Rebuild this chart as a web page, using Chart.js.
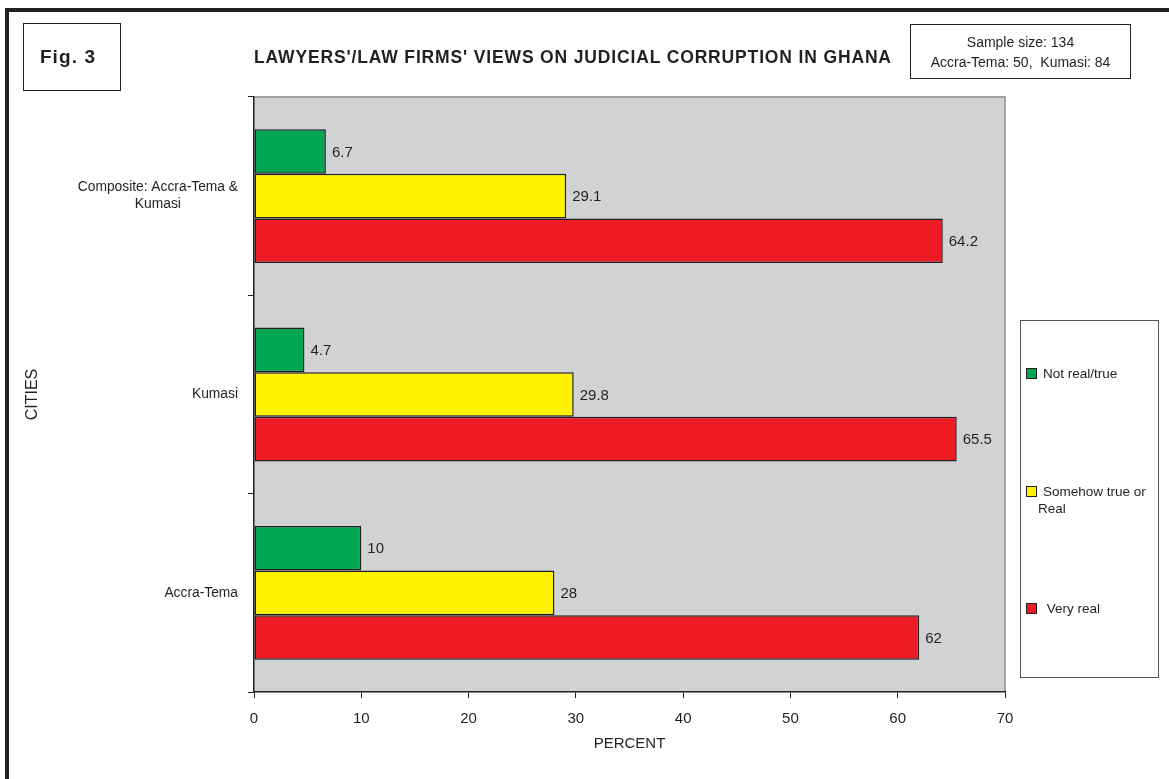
<!DOCTYPE html>
<html>
<head>
<meta charset="utf-8">
<script src="https://cdn.jsdelivr.net/npm/chart.js@4.4.0/dist/chart.umd.min.js"></script>
<style>
  html, body { margin: 0; padding: 0; background: #fff; }
  #wrap { position: relative; width: 1169px; height: 779px; overflow: hidden;
          font-family: 'Liberation Sans', Arial, Helvetica, sans-serif; color: #231f20; }
  #wrap * { box-sizing: border-box; }
  canvas { position: absolute; left: 0; top: 0; }
  .frame-top  { position: absolute; left: 5px; top: 8px; width: 1164px; height: 4px; background: #231f20; }
  .frame-left { position: absolute; left: 5px; top: 8px; width: 4px; height: 771px; background: #231f20; }
  .figbox { position: absolute; left: 23px; top: 23px; width: 98px; height: 68px;
            border: 1.5px solid #231f20; display: flex; align-items: center; justify-content: center;
            font-weight: bold; font-size: 19px; letter-spacing: 1.1px; padding-right: 8px; }
  .title { position: absolute; left: 254px; top: 46px; height: 22px; line-height: 22px;
           font-weight: bold; font-size: 17.5px; letter-spacing: 0.85px; white-space: nowrap; }
  .sample { position: absolute; left: 910px; top: 24px; width: 221px; height: 55px;
            border: 1.5px solid #231f20; display: flex; flex-direction: column;
            align-items: center; justify-content: center; font-size: 14px; line-height: 20px; }
  .legend { position: absolute; left: 1020px; top: 320px; width: 139px; height: 358px;
            border: 1px solid #555; }
  .legend .item { position: absolute; left: 0; width: 137px; }
  .legend .swatch { position: absolute; left: 5px; top: 3px; width: 11px; height: 11px;
                    border: 1.5px solid #231f20; }
  .legend .text { position: absolute; left: 17px; top: 0; width: 114px; text-indent: 5px;
                  font-size: 13.5px; line-height: 17px; white-space: pre-wrap; }
</style>
</head>
<body>
<div id="wrap">
  <canvas id="chart" width="1169" height="779"></canvas>
  <div class="frame-top"></div>
  <div class="frame-left"></div>
  <div class="figbox">Fig. 3</div>
  <div class="title">LAWYERS'/LAW FIRMS' VIEWS ON JUDICIAL CORRUPTION IN GHANA</div>
  <div class="sample"><div>Sample size: 134</div><div>Accra-Tema: 50,&nbsp; Kumasi: 84</div></div>
  <div class="legend" id="legend"></div>
</div>
<script>
// Cities, listed top to bottom
const cities = [['Composite: Accra-Tema &', 'Kumasi'], 'Kumasi', 'Accra-Tema'];

// Percent of respondents per answer
const notReal      = [6.7, 4.7, 10];
const somehowTrue  = [29.1, 29.8, 28];
const veryReal     = [64.2, 65.5, 62];

const seriesNames  = ['Not real/true', 'Somehow true or Real', ' Very real'];
const seriesColors = ['#00a651', '#fff200', '#ed1c24'];

// Percent axis
const percentMin = 0;
const percentMax = 70;
const percentStep = 10;

const INK = '#231f20';
const FONT = "'Liberation Sans', Arial, Helvetica, sans-serif";

// Grey plot area with its thin frame on top and right
const plotBackground = {
  id: 'plotBackground',
  beforeDraw(chart) {
    const { ctx, chartArea: a } = chart;
    ctx.save();
    ctx.fillStyle = '#d1d2d4';
    ctx.fillRect(a.left, a.top, a.right - a.left, a.bottom - a.top);
    ctx.strokeStyle = '#8d8d8f';
    ctx.lineWidth = 1.5;
    ctx.beginPath();
    ctx.moveTo(a.left, a.top);
    ctx.lineTo(a.right, a.top);
    ctx.lineTo(a.right, a.bottom);
    ctx.stroke();
    ctx.restore();
  }
};

// City names: right-aligned against the axis, multi-line names centred on themselves
const cityLabels = {
  id: 'cityLabels',
  afterDraw(chart) {
    const { ctx } = chart;
    const y = chart.scales.y;
    ctx.save();
    ctx.font = '13.8px ' + FONT;
    ctx.fillStyle = INK;
    ctx.textAlign = 'center';
    ctx.textBaseline = 'middle';
    const right = y.right - 16;
    const lh = 17;
    chart.data.labels.forEach((label, i) => {
      const lines = Array.isArray(label) ? label : [label];
      const w = Math.max(...lines.map(l => ctx.measureText(l).width));
      const cx = right - w / 2;
      const cy = y.getPixelForValue(i);
      lines.forEach((l, k) => ctx.fillText(l, cx, cy + (k - (lines.length - 1) / 2) * lh));
    });
    ctx.restore();
  }
};

// Value printed just past the end of each bar
const valueLabels = {
  id: 'valueLabels',
  afterDatasetsDraw(chart) {
    const { ctx } = chart;
    ctx.save();
    ctx.font = '15px ' + FONT;
    ctx.fillStyle = INK;
    ctx.textAlign = 'left';
    ctx.textBaseline = 'middle';
    chart.data.datasets.forEach((ds, di) => {
      chart.getDatasetMeta(di).data.forEach((bar, i) => {
        ctx.fillText(String(ds.data[i]), bar.x + 6, bar.y + 1);
      });
    });
    ctx.restore();
  }
};

const chart = new Chart(document.getElementById('chart'), {
  type: 'bar',
  data: {
    labels: cities,
    datasets: [notReal, somehowTrue, veryReal].map((values, i) => ({
      label: seriesNames[i],
      data: values,
      backgroundColor: seriesColors[i],
      borderColor: INK,
      borderWidth: 1.5,
      borderSkipped: false,
      categoryPercentage: 0.675,
      barPercentage: 1
    }))
  },
  options: {
    indexAxis: 'y',
    responsive: false,
    animation: false,
    devicePixelRatio: 1,
    layout: { padding: { left: 0, top: 97, right: 164, bottom: 0 } },
    plugins: {
      legend: { display: false },
      tooltip: { enabled: false }
    },
    scales: {
      x: {
        min: percentMin,
        max: percentMax,
        ticks: { stepSize: percentStep, color: INK, padding: 12, font: { family: FONT, size: 15 } },
        grid: { drawOnChartArea: false, drawTicks: true, tickLength: 6, color: INK, lineWidth: 1 },
        border: { display: true, color: INK, width: 1.5 },
        title: { display: true, text: 'PERCENT', color: INK, padding: { top: 0, bottom: 26 },
                 font: { family: FONT, size: 15 } },
        afterFit(scale) { scale.height = 87; }
      },
      y: {
        ticks: { display: false },
        grid: { drawOnChartArea: false, drawTicks: true, tickLength: 6, color: INK, lineWidth: 1, offset: true },
        border: { display: true, color: INK, width: 1.5 },
        title: { display: true, text: 'CITIES', color: INK, padding: { top: 23, bottom: 0 },
                 font: { family: FONT, size: 16 } },
        afterFit(scale) { scale.width = 254; }
      }
    }
  },
  plugins: [plotBackground, cityLabels, valueLabels]
});

// Legend built from the series names and colours
const legendEl = document.getElementById('legend');
seriesNames.forEach((name, i) => {
  const item = document.createElement('div');
  item.className = 'item';
  item.style.top = (44 + i * 117.5) + 'px';
  const sw = document.createElement('div');
  sw.className = 'swatch';
  sw.style.background = seriesColors[i];
  const tx = document.createElement('div');
  tx.className = 'text';
  tx.textContent = name;
  item.appendChild(sw);
  item.appendChild(tx);
  legendEl.appendChild(item);
});
</script>
</body>
</html>
